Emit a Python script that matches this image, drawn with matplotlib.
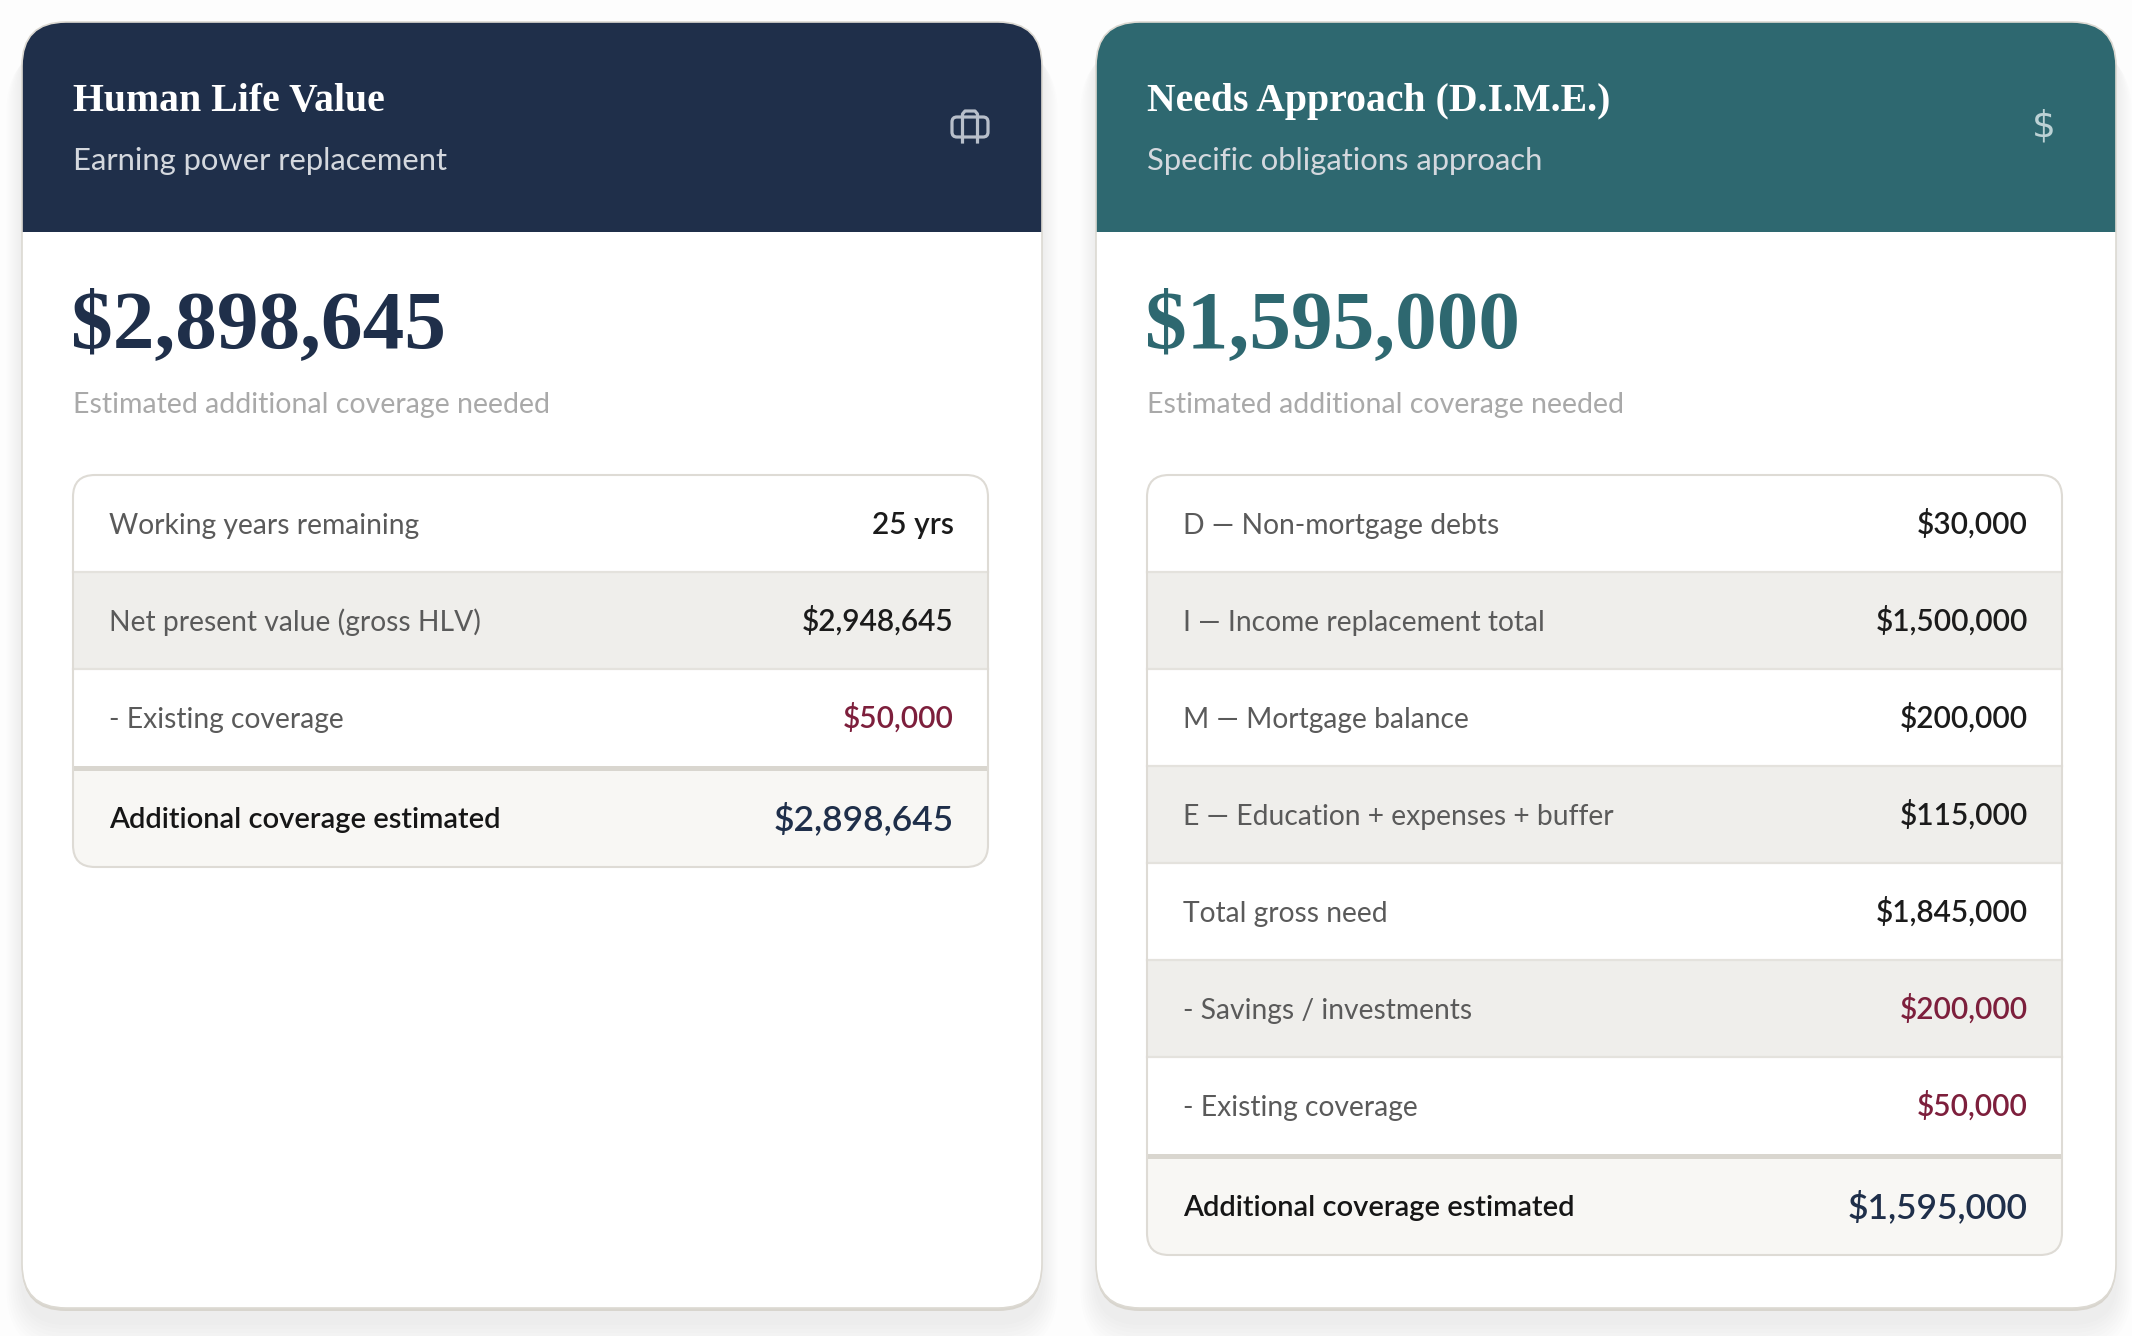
import matplotlib.pyplot as plt
from matplotlib.patches import FancyBboxPatch, Rectangle
from matplotlib.lines import Line2D

W, H = 2132, 1336

# ---- data ----
caption = "Estimated additional coverage needed"
total_label = "Additional coverage estimated"

hlv_title = "Human Life Value"
hlv_subtitle = "Earning power replacement"
hlv_total = 2898645
hlv_labels = ["Working years remaining", "Net present value (gross HLV)", "- Existing coverage"]
hlv_values = [25, 2948645, 50000]
hlv_units = ["yrs", "$", "$"]

dime_title = "Needs Approach (D.I.M.E.)"
dime_subtitle = "Specific obligations approach"
dime_total = 1595000
dime_labels = ["D \u2014 Non-mortgage debts", "I \u2014 Income replacement total",
               "M \u2014 Mortgage balance", "E \u2014 Education + expenses + buffer",
               "Total gross need", "- Savings / investments", "- Existing coverage"]
dime_values = [30000, 1500000, 200000, 115000, 1845000, 200000, 50000]
dime_units = ["$"] * 7

NAVY = "#1f2f4a"
TEAL = "#2e6870"
RED = "#7d1f3c"
SERIF = "Liberation Serif"
SANS = "Lato"


def fmt(v, unit):
    if unit == "yrs":
        return f"{v} yrs"
    return f"${v:,}"


fig = plt.figure(figsize=(W / 100, H / 100), dpi=100, facecolor="#fdfdfd")
ax = fig.add_axes([0, 0, 1, 1])
ax.set_xlim(0, W)
ax.set_ylim(H, 0)
ax.axis("off")


def draw_icon(kind, cx, cy, color):
    if kind == "briefcase":
        body = FancyBboxPatch((cx - 18, cy - 10), 36, 20, boxstyle="round,pad=0,rounding_size=5",
                              facecolor="none", edgecolor=color, lw=2.3, zorder=6)
        ax.add_patch(body)
        ax.add_line(Line2D([cx - 7.5, cx - 7.5, cx - 5, cx + 5, cx + 7.5, cx + 7.5],
                           [cy + 15, cy - 13, cy - 16, cy - 16, cy - 13, cy + 15],
                           color=color, lw=2.3, solid_joinstyle="round", zorder=6))
    else:
        ax.text(cx, cy, "$", color=color, fontsize=27, family="DejaVu Sans",
                ha="center", va="center", zorder=6)


def draw_card(x0, title, subtitle, total, labels, values, units, head_color, icon, icon_color):
    y0, cw, ch = 22, 1020, 1286
    # soft shadow
    for i in range(8):
        g = 4 + i * 5
        ax.add_patch(FancyBboxPatch((x0 - g * 0.4, y0 + 14 + g * 0.3), cw + g * 0.8, ch + g * 0.5,
                                    boxstyle=f"round,pad=0,rounding_size={44 + g * 0.5}",
                                    facecolor="#1f2f4a", edgecolor="none", alpha=0.007, zorder=1))
    ax.add_patch(FancyBboxPatch((x0, y0 + 3), cw, ch, boxstyle="round,pad=0,rounding_size=44",
                                facecolor="#d8d5ce", edgecolor="none", zorder=2))
    card = FancyBboxPatch((x0, y0), cw, ch, boxstyle="round,pad=0,rounding_size=44",
                          facecolor="white", edgecolor="none", zorder=3)
    ax.add_patch(card)
    head = Rectangle((x0, y0), cw, 210, facecolor=head_color, edgecolor="none", zorder=4)
    head.set_clip_path(card)
    ax.add_patch(head)
    ax.add_patch(FancyBboxPatch((x0, y0), cw, ch, boxstyle="round,pad=0,rounding_size=44",
                                facecolor="none", edgecolor="#dcd9d2", lw=1.2, zorder=5))

    tx = x0 + 51
    ax.text(tx, 111, title, color="white", fontsize=28.6, family=SERIF, fontweight="bold",
            va="baseline", zorder=6)
    ax.text(tx, 170, subtitle, color="#d4d8de", fontsize=22.3, family=SANS,
            va="baseline", zorder=6)
    draw_icon(icon, x0 + 948, 127, icon_color)

    ax.text(tx - 2, 347, fmt(total, "$"), color=head_color, fontsize=60, family=SERIF,
            fontweight="bold", va="baseline", zorder=6)
    ax.text(tx, 413, caption, color="#a9a9a9", fontsize=20.5, family=SANS,
            va="baseline", zorder=6)

    # breakdown table
    top, rh, tw = 475, 97, 915
    n = len(labels)
    th = n * rh + 5 + 96
    table = FancyBboxPatch((tx, top), tw, th, boxstyle="round,pad=0,rounding_size=22",
                           facecolor="white", edgecolor="none", zorder=6)
    ax.add_patch(table)
    for i, (lab, val, unit) in enumerate(zip(labels, values, units)):
        ry = top + i * rh
        r = Rectangle((tx, ry), tw, rh, facecolor="#efeeeb" if i % 2 else "white",
                      edgecolor="none", zorder=7)
        r.set_clip_path(table)
        ax.add_patch(r)
        if i > 0:
            ax.add_line(Line2D([tx, tx + tw], [ry, ry], color="#e4e2dd", lw=1.6, zorder=8))
        ax.text(tx + 36, ry + 59, lab, color="#5a5a5a", fontsize=20.3, family=SANS,
                va="baseline", zorder=9)
        ax.text(tx + 881, ry + 59, fmt(val, unit), color=RED if lab.startswith("-") else "#1b1b1b",
                fontsize=21.5, family=SANS, fontweight="semibold", ha="right", va="baseline",
                zorder=9)
    dy = top + n * rh
    ax.add_patch(Rectangle((tx, dy), tw, 5, facecolor="#d9d6cf", edgecolor="none", zorder=8))
    fr = Rectangle((tx, dy + 5), tw, 96, facecolor="#f8f7f4", edgecolor="none", zorder=7)
    fr.set_clip_path(table)
    ax.add_patch(fr)
    ax.text(tx + 36, dy + 62, total_label, color="#161616", fontsize=21, family=SANS,
            fontweight="semibold", va="baseline", zorder=9)
    ax.text(tx + 881, dy + 64, fmt(total, "$"), color=NAVY, fontsize=25.5, family=SANS,
            fontweight="semibold", ha="right", va="baseline", zorder=9)
    ax.add_patch(FancyBboxPatch((tx, top), tw, th, boxstyle="round,pad=0,rounding_size=22",
                                facecolor="none", edgecolor="#dedbd5", lw=1.5, zorder=10))


draw_card(22, hlv_title, hlv_subtitle, hlv_total, hlv_labels, hlv_values, hlv_units,
          NAVY, "briefcase", "#b8bfca")
draw_card(1096, dime_title, dime_subtitle, dime_total, dime_labels, dime_values, dime_units,
          TEAL, "dollar", "#bcd2d5")

fig.savefig("out.png", dpi=100, facecolor=fig.get_facecolor())
